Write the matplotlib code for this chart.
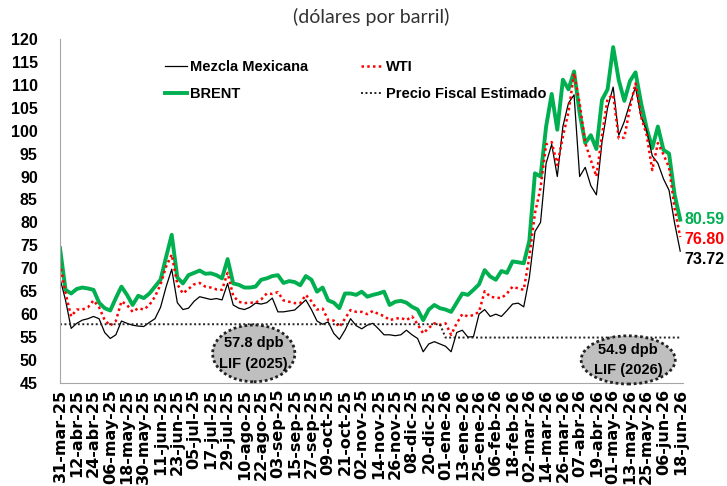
import numpy as np
import pandas as pd
import matplotlib
matplotlib.use('Agg')
import matplotlib.pyplot as plt
from matplotlib.patches import Ellipse

# precios cada 4 dias desde 31-mar-25 hasta 18-jun-26
brent = [74.4, 65.3, 64.5, 65.5, 65.8, 65.6, 65.3, 62.5, 61.3, 60.8,
         63.5, 66.0, 64.2, 62.0, 64.0, 63.5, 64.5, 66.0, 67.5, 72.5,
         77.3, 68.0, 66.7, 68.5, 69.0, 69.5, 68.8, 68.9, 68.5, 67.8,
         72.0, 66.7, 66.4, 65.8, 65.8, 66.0, 67.5, 67.8, 68.3, 68.5,
         66.8, 67.2, 67.0, 66.3, 68.3, 67.5, 64.9, 65.8, 63.0, 62.5,
         61.3, 64.5, 64.5, 64.2, 64.9, 63.8, 64.2, 64.5, 64.9, 62.0,
         62.7, 62.9, 62.5, 61.6, 61.0, 58.7, 61.0, 62.0, 61.3, 61.0,
         60.5, 62.5, 64.5, 64.2, 65.3, 66.5, 69.6, 68.2, 67.5, 69.4,
         69.0, 71.5, 71.3, 71.1, 76.0, 90.7, 90.0, 100.9, 108.0, 100.2,
         111.1, 109.0, 112.9, 103.8, 97.3, 99.0, 96.0, 106.7, 109.0, 118.2,
         111.0, 106.5, 110.8, 112.7, 106.0, 100.5, 96.2, 100.9, 95.8, 95.0,
         86.0, 80.59]

wti = [71.1, 64.5, 59.5, 61.0, 61.0, 61.5, 63.0, 61.5, 58.7, 57.5,
       58.5, 62.8, 62.0, 60.5, 61.3, 61.0, 62.0, 63.8, 66.5, 70.4,
       73.0, 66.5, 64.5, 65.5, 66.5, 66.8, 66.0, 65.8, 65.4, 65.3,
       69.0, 64.0, 62.7, 62.4, 62.5, 62.5, 63.2, 64.5, 64.4, 64.8,
       63.0, 62.7, 62.4, 62.4, 64.2, 62.8, 61.0, 61.2, 58.7, 58.6,
       57.2, 59.0, 60.9, 60.5, 60.5, 60.0, 60.7, 60.0, 59.6, 58.7,
       59.0, 59.2, 58.7, 59.5, 57.8, 55.8, 57.0, 58.0, 57.7, 58.0,
       55.5, 58.0, 60.0, 59.5, 59.8, 60.5, 65.0, 63.8, 63.6, 63.5,
       64.5, 66.0, 65.6, 65.3, 72.5, 82.0, 87.5, 97.0, 97.5, 92.5,
       98.7, 104.0, 112.5, 106.0, 97.3, 93.6, 90.0, 99.0, 107.0, 107.8,
       98.3, 98.5, 105.0, 110.3, 103.0, 99.0, 91.4, 97.3, 94.8, 92.0,
       83.0, 76.80]

mezcla = [67.8, 63.0, 56.9, 58.0, 58.7, 59.0, 59.5, 59.0, 56.0, 54.7,
          55.5, 58.5, 58.0, 57.6, 57.4, 57.3, 58.2, 59.0, 61.5, 66.0,
          69.8, 62.5, 61.0, 61.3, 62.8, 63.8, 63.5, 63.2, 63.4, 63.1,
          66.7, 62.0, 61.3, 61.0, 61.5, 62.4, 62.2, 62.5, 63.5, 60.5,
          60.5, 60.7, 60.9, 62.0, 63.1, 61.0, 58.5, 57.8, 58.3, 55.8,
          54.5, 56.5, 59.0, 57.5, 56.8, 57.6, 58.0, 56.8, 55.5, 55.5,
          55.3, 55.5, 56.5, 55.5, 54.7, 51.8, 53.5, 54.0, 53.5, 53.0,
          51.8, 56.0, 56.5, 55.0, 55.1, 60.0, 61.0, 59.5, 60.0, 59.5,
          60.8, 62.2, 62.4, 61.6, 68.0, 78.0, 80.0, 92.9, 97.0, 90.0,
          100.9, 106.0, 107.8, 90.0, 92.0, 88.0, 86.0, 97.5, 105.0, 109.5,
          99.0, 102.0, 106.0, 109.5, 103.0, 100.0, 94.5, 92.9, 89.5, 87.0,
          79.8, 73.72]

fiscal_2025 = 57.8
fiscal_2026 = 54.9

meses = ['ene', 'feb', 'mar', 'abr', 'may', 'jun', 'jul', 'ago', 'sep', 'oct', 'nov', 'dic']

fechas = pd.date_range('2025-03-31', periods=len(brent), freq='4D')
fiscal = np.where(fechas < pd.Timestamp('2026-01-01'), fiscal_2025, fiscal_2026)

fuente = ['Liberation Sans', 'DejaVu Sans']

fig = plt.figure(figsize=(7.27, 4.86), dpi=100)
ax = fig.add_axes([0.0825, 0.212, 0.857, 0.708])

verde = '#00B050'
ax.plot(fechas, brent, color=verde, lw=2.8, label='BRENT')
ax.plot(fechas, mezcla, color='black', lw=0.9, label='Mezcla Mexicana')
ax.plot(fechas, wti, color='red', lw=1.8, linestyle=(0, (1, 1.3)), label='WTI')
ax.plot(fechas, fiscal, color='#222222', lw=1.4, linestyle=(0, (1, 1.3)),
        label='Precio Fiscal Estimado')

ax.set_ylim(45, 120)
ax.set_yticks(np.arange(45, 121, 5))
ax.set_xlim(fechas[0], fechas[0] + pd.Timedelta(days=446))

ticks = pd.date_range('2025-03-31', '2026-06-18', freq='12D')
ax.set_xticks(ticks)
ax.set_xticklabels(['%02d-%s-%s' % (t.day, meses[t.month - 1], str(t.year)[2:]) for t in ticks],
                   rotation=90, fontsize=11.5, fontweight='bold', va='top', ha='center')
for lab in ax.get_yticklabels():
    lab.set_fontfamily(fuente)
    lab.set_fontweight('bold')
    lab.set_fontsize(11.5)
ax.tick_params(axis='both', length=0)
ax.tick_params(axis='y', pad=16)
ax.tick_params(axis='x', pad=4)

for s in ['top', 'right']:
    ax.spines[s].set_visible(False)
for s in ['left', 'bottom']:
    ax.spines[s].set_color('#A6A6A6')

h, l = ax.get_legend_handles_labels()
orden = [1, 0, 2, 3]
ax.legend([h[i] for i in orden], [l[i] for i in orden], ncol=2, loc='upper left',
          bbox_to_anchor=(0.16, 0.955), frameon=False, borderaxespad=0,
          handlelength=1.5, handletextpad=0.2, columnspacing=3.6, labelspacing=0.9,
          prop={'family': fuente, 'weight': 'bold', 'size': 10.5})

# etiquetas finales
finales = [(brent[-1], verde, 0), (wti[-1], 'red', -2), (mezcla[-1], 'black', -6)]
for v, c, dy in finales:
    ax.annotate('%.2f' % v, xy=(fechas[-1], v), xytext=(3, dy), textcoords='offset points',
                color=c, fontsize=11.5, fontweight='bold', family=fuente,
                va='center', ha='left', annotation_clip=False)

# elipses LIF
elipses = [((0.311, 0.086), 0.132, 0.165, '57.8 dpb\nLIF (2025)'),
           ((0.912, 0.067), 0.151, 0.14, '54.9 dpb\nLIF (2026)')]
for (xc, yc), w, hh, txt in elipses:
    e = Ellipse((xc, yc), w, hh, transform=ax.transAxes, facecolor='#BFBFBF',
                edgecolor='#222222', lw=2, linestyle=(0, (1, 1)), clip_on=False, zorder=5)
    ax.add_patch(e)
    ax.text(xc, yc, txt, transform=ax.transAxes, ha='center', va='center',
            fontsize=10.5, fontweight='bold', family=fuente, linespacing=1.6, zorder=6)

fig.text(0.511, 0.965, '(dólares por barril)', ha='center', va='center',
         fontsize=14, family=['Lato', 'DejaVu Sans'], color='#333333')

fig.savefig('out.png', dpi=100)
